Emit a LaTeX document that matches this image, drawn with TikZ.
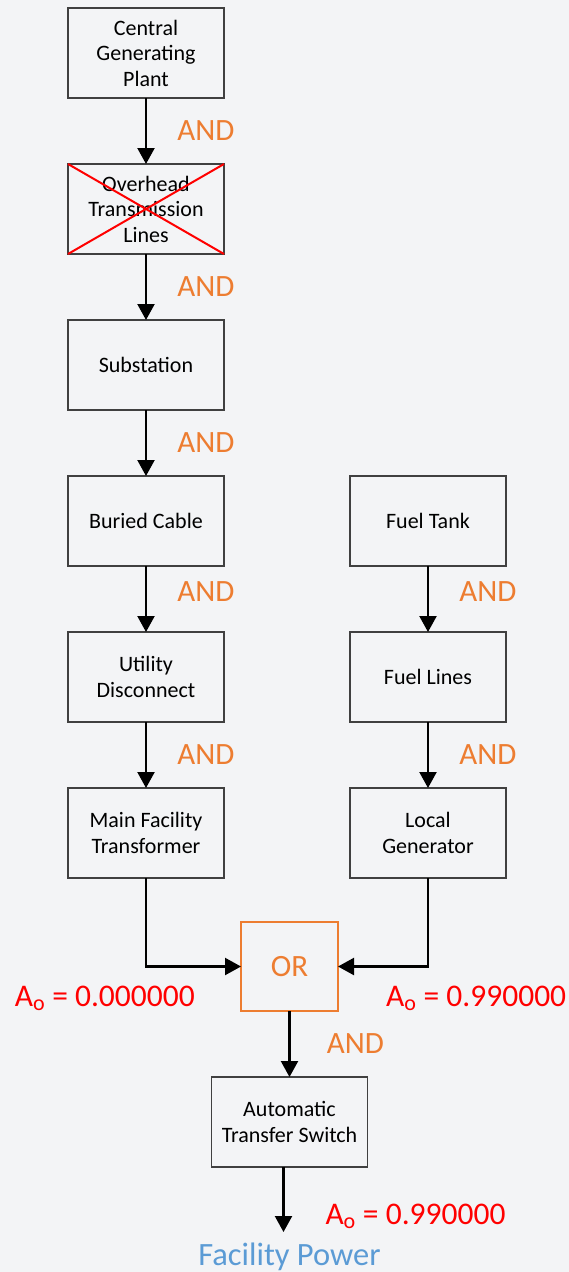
\documentclass[tikz,border=0pt]{standalone}
\usepackage{fontspec}
\setmainfont{Carlito}
\usetikzlibrary{positioning, arrows.meta, calc}
\definecolor{gateOrange}{RGB}{237,125,49}
\definecolor{availRed}{RGB}{255,0,0}
\definecolor{powerBlue}{RGB}{91,155,213}
\definecolor{boxGray}{RGB}{64,64,64}
\definecolor{bgGray}{RGB}{243,244,246}
\tikzset{
	blockbox/.style={rectangle, draw=boxGray, line width=1.5pt, minimum width=156pt,
		minimum height=90pt, align=center, font=\fontsize{22}{25.5}\selectfont,
		inner sep=0pt, outer sep=0pt},
	gatebox/.style={rectangle, draw=gateOrange, line width=1.5pt, minimum width=97pt,
		minimum height=89pt, font=\fontsize{31}{34}\selectfont, text=gateOrange, outer sep=0pt},
	flowarr/.style={-{Triangle[length=16pt, width=17pt]}, line width=2.2pt, draw=black},
	gatelabel/.style={font=\fontsize{31}{34}\selectfont, text=gateOrange, xshift=60pt},
	availlabel/.style={font=\fontsize{31.5}{34}\selectfont, text=availRed, inner sep=2pt},
	crossout/.style={draw=availRed, line width=2pt}
}

\begin{document}
\begin{tikzpicture}[node distance=66pt and 126pt]
	\fill[bgGray] (0,0) rectangle (569pt,-1272pt);
	\useasboundingbox (0,0) rectangle (569pt,-1272pt);
	% utility path
	\node[blockbox] (plant) at (146pt,-53pt) {Central\\Generating\\Plant};
	\node[blockbox, below=of plant] (lines) {Overhead\\Transmission\\Lines};
	\node[blockbox, below=of lines] (subst) {Substation};
	\node[blockbox, below=of subst] (cable) {Buried Cable};
	\node[blockbox, below=of cable] (disc) {Utility\\Disconnect};
	\node[blockbox, below=of disc] (xfmr) {Main Facility\\Transformer};
	% generator path
	\node[blockbox, right=of cable] (tank) {Fuel Tank};
	\node[blockbox, below=of tank] (fuel) {Fuel Lines};
	\node[blockbox, below=of fuel] (gen) {Local\\Generator};
	\coordinate (mid) at ($(xfmr.south)!0.5!(gen.south)$);
	\node[gatebox, below=44pt of mid, xshift=2.5pt] (or) {OR};
	\node[blockbox, below=of or] (ats) {Automatic\\Transfer Switch};
	\node[font=\fontsize{32.5}{36}\selectfont, text=powerBlue, inner sep=1pt, below=75pt of ats] (power) {Facility Power};
	\draw[crossout] (lines.north west) -- (lines.south east) (lines.south west) -- (lines.north east);
	\draw[flowarr] (plant) -- node[gatelabel] {AND} (lines);
	\draw[flowarr] (lines) -- node[gatelabel] {AND} (subst);
	\draw[flowarr] (subst) -- node[gatelabel] {AND} (cable);
	\draw[flowarr] (cable) -- node[gatelabel, yshift=7pt] {AND} (disc);
	\draw[flowarr] (disc) -- node[gatelabel] {AND} (xfmr);
	\draw[flowarr] (tank) -- node[gatelabel, yshift=7pt] {AND} (fuel);
	\draw[flowarr] (fuel) -- node[gatelabel] {AND} (gen);
	\draw[flowarr] (xfmr.south) |- (or.west);
	\draw[flowarr] (gen.south) |- (or.east);
	\draw[flowarr] (or) -- node[gatelabel, xshift=6pt] {AND} (ats);
	\draw[flowarr] ([xshift=-6pt]ats.south) -- ([xshift=-6pt, yshift=10pt]ats.south |- power.north);
	% availability values
	\node[availlabel, left=44pt of or, yshift=-31.5pt] (ao-grid) {A\textsubscript{o} = 0.000000};
	\node[availlabel, right=46pt of or, yshift=-31.5pt] (ao-gen) {A\textsubscript{o} = 0.990000};
	\node[availlabel] (ao-out) at ($(ats.south)+(126pt,-49pt)$) {A\textsubscript{o} = 0.990000};
\end{tikzpicture}
\end{document}
